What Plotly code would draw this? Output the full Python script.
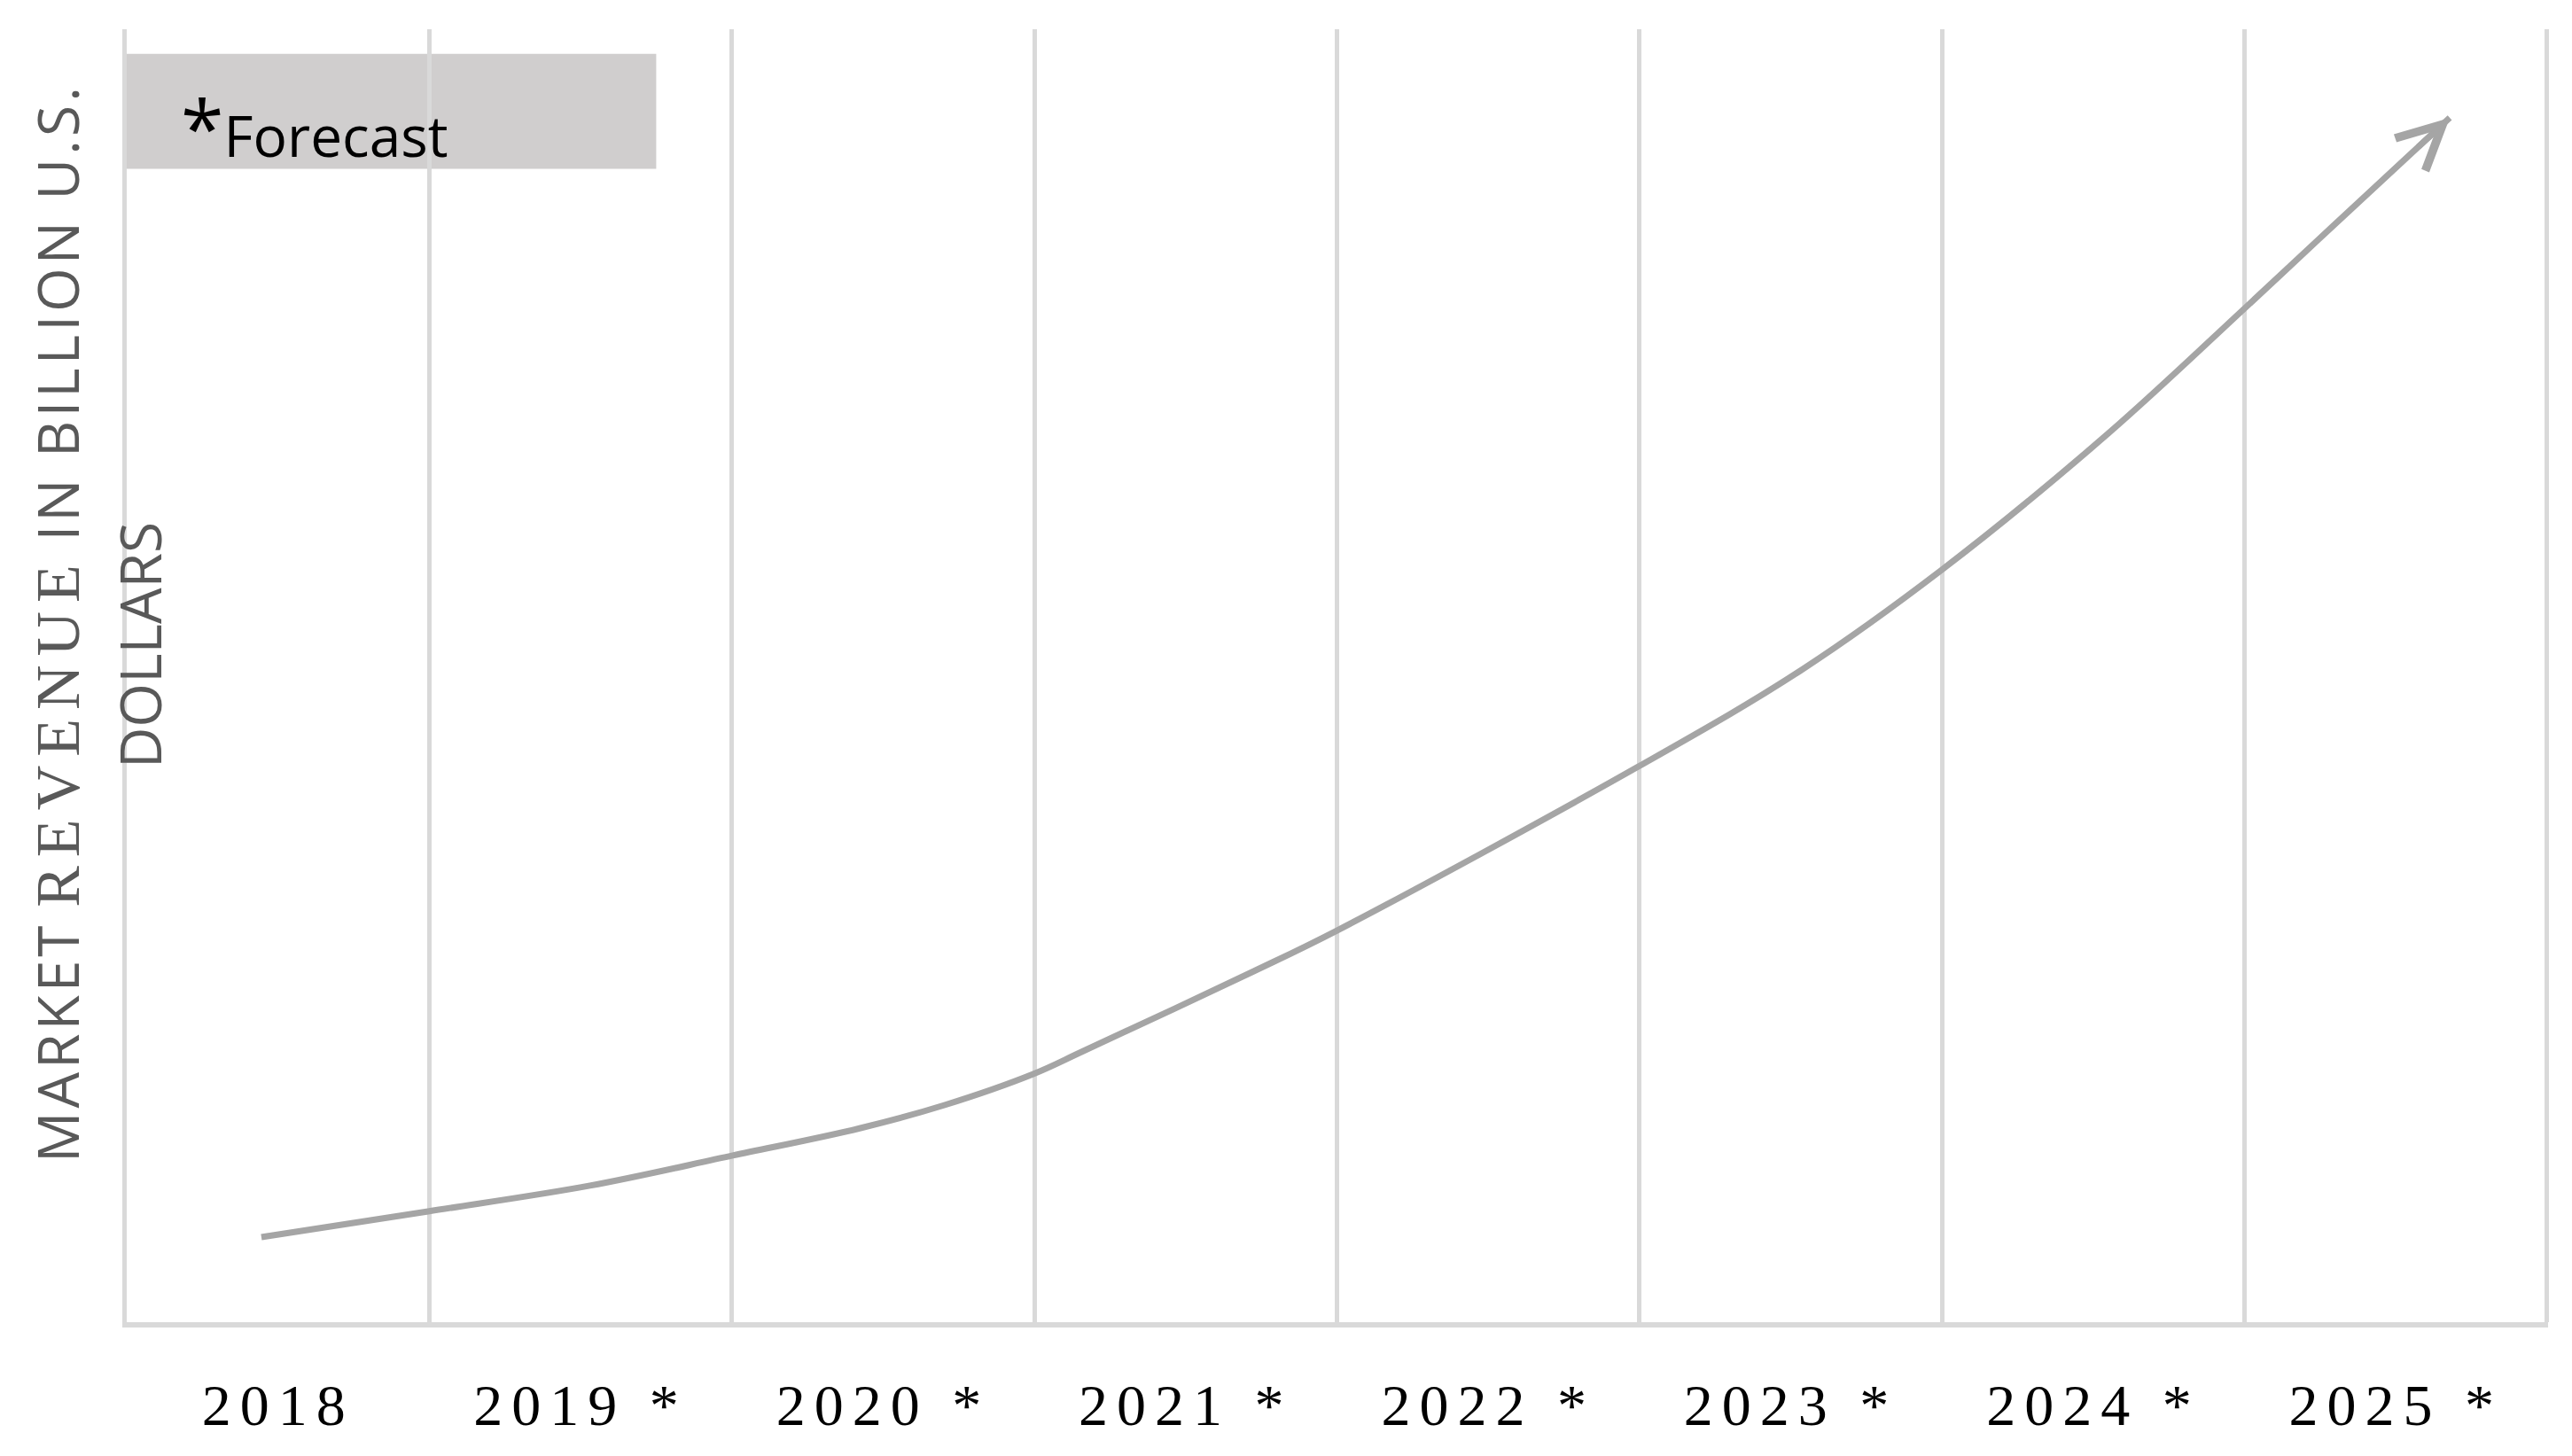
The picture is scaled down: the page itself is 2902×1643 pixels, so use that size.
import plotly.graph_objects as go

# ---- data ----
categories = ["2018", "2019 *", "2020 *", "2021 *", "2022 *", "2023 *", "2024 *", "2025 *"]
# curve path: x in category-index units (2018 = 0), y as share (0-100) of the unlabelled value scale
curve_x = [-0.055, 0.496, 1.031, 1.503, 1.925, 2.203, 2.496, 2.662, 3.225, 3.5,
           4.496, 5.031, 5.503, 6.05, 6.5, 6.745, 7.178]
curve_y = [6.58, 8.57, 10.56, 12.89, 15.01, 16.79, 19.19, 20.97, 27.14, 30.29,
           42.97, 50.38, 58.26, 68.75, 78.41, 83.76, 93.15]
y_title_words = ["MARKET", "REVENUE", "IN BILLION U.S."]
y_title_line2 = "DOLLARS"
legend_note = "Forecast"

# page body has an 8px margin -> figure is shrunk by that amount so it ends at the window edge
OFF = 8
W, H = 2902 - OFF, 1643 - OFF
LINE_COLOR = "#a5a5a5"
GRID_COLOR = "#d9d9d9"

n = len(categories)
boundaries = [i - 0.5 for i in range(n + 1)]

fig = go.Figure()
fig.add_trace(go.Scatter(
    x=curve_x, y=curve_y, mode="lines",
    line=dict(color=LINE_COLOR, width=7, shape="spline", smoothing=1.0),
    hoverinfo="skip", showlegend=False,
))

# arrow head at the end of the curve (short tail along the last segment)
t = 0.25
tail_x = curve_x[-1] - t * (curve_x[-1] - curve_x[-2])
tail_y = curve_y[-1] - t * (curve_y[-1] - curve_y[-2])
fig.add_annotation(
    x=curve_x[-1], y=curve_y[-1], ax=tail_x, ay=tail_y,
    xref="x", yref="y", axref="x", ayref="y",
    text="", showarrow=True, arrowhead=5, arrowsize=1.4, arrowwidth=7,
    arrowcolor=LINE_COLOR, standoff=0, startstandoff=0,
)

# forecast note box
fig.add_shape(type="rect", xref="x", yref="y", x0=-0.5, x1=1.25, y0=89.2, y1=98.1,
              fillcolor="#d0cece", line=dict(width=0), layer="below")
fig.add_annotation(
    xref="paper", yref="paper", x=0.0215, y=0.9245, xanchor="left", yanchor="middle",
    text='<span style="font-size:88px">*</span>' + legend_note, showarrow=False,
    font=dict(family="Open Sans", size=64, color="#000000"),
)

# y-axis title (two lines)
sans_sp = '<span style="letter-spacing:4px">%s</span>'
serif_sp = '<span style="font-family:Liberation Serif;font-size:70px;letter-spacing:10px">%s</span>'
line1 = (sans_sp % y_title_words[0]) + " " + (serif_sp % y_title_words[1]) + " " + (sans_sp % y_title_words[2])
fig.add_annotation(
    xref="paper", yref="paper", x=-0.02855, y=0.5408, xanchor="center", yanchor="middle",
    textangle=-90, showarrow=False, text=line1,
    font=dict(family="Open Sans", size=64, color="#595959"),
)
fig.add_annotation(
    xref="paper", yref="paper", x=0.005124, y=0.5236, xanchor="center", yanchor="middle",
    textangle=-90, showarrow=False, text=y_title_line2,
    font=dict(family="Open Sans", size=64, color="#595959"),
)

fig.update_layout(
    width=W, height=H,
    margin=dict(l=143 - OFF, r=27, t=33 - OFF, b=151, autoexpand=False),
    paper_bgcolor="white", plot_bgcolor="white",
    showlegend=False,
    xaxis=dict(
        range=[-0.5, n - 0.5 + 0.003], automargin=False,
        tickmode="array", tickvals=list(range(n)),
        ticktext=['<span style="letter-spacing:10px">%s</span>' % c for c in categories],
        tickfont=dict(family="Liberation Serif", size=66, color="#000000"),
        ticks="", showgrid=False, zeroline=False,
        showline=True, linecolor=GRID_COLOR, linewidth=6,
        ticklabelstandoff=31,
        minor=dict(tickmode="array", tickvals=boundaries, showgrid=True,
                   gridcolor=GRID_COLOR, gridwidth=5, ticks=""),
    ),
    yaxis=dict(
        range=[0, 100], automargin=False, showticklabels=False, ticks="",
        showgrid=False, zeroline=False,
        showline=True, linecolor=GRID_COLOR, linewidth=5,
    ),
)

fig.write_html("out.html")
